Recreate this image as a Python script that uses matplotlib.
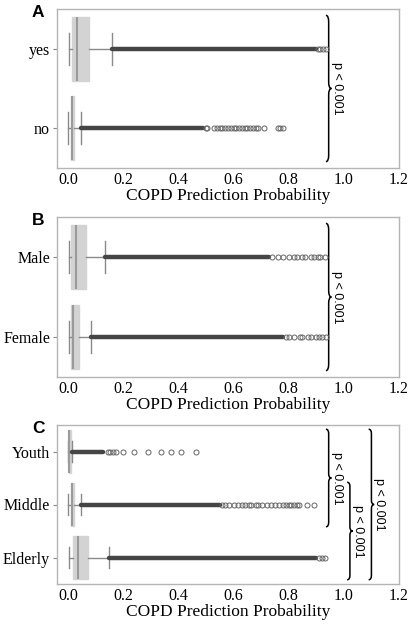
import matplotlib
matplotlib.use('Agg')
import matplotlib.pyplot as plt
from matplotlib.path import Path
from matplotlib.patches import PathPatch

# ---- data (box stats, dense flier runs, sparse fliers) ----
cats_a = ['yes', 'no']
cats_b = ['Male', 'Female']
cats_c = ['Youth', 'Middle', 'Elderly']

# (whislo, q1, med, q3, whishi)
stats_a = [(0.003, 0.016, 0.034, 0.075, 0.160),
           (0.000, 0.009, 0.015, 0.023, 0.046)]
stats_b = [(0.003, 0.012, 0.030, 0.064, 0.135),
           (0.003, 0.012, 0.017, 0.040, 0.082)]
stats_c = [(0.000, 0.002, 0.005, 0.009, 0.016),
           (0.000, 0.009, 0.016, 0.023, 0.048),
           (0.003, 0.018, 0.035, 0.073, 0.150)]

# ranges where the outlier circles overlap into a solid band
dense_a = [[(0.160, 0.900)], [(0.046, 0.490)]]
dense_b = [[(0.135, 0.730)], [(0.082, 0.780)]]
dense_c = [[(0.016, 0.126)], [(0.048, 0.550)], [(0.150, 0.900)]]

sparse_a = [[0.905, 0.915, 0.925, 0.935],
            [0.50, 0.505, 0.53, 0.54, 0.55, 0.56, 0.57, 0.58, 0.59, 0.60, 0.61,
             0.62, 0.63, 0.64, 0.65, 0.66, 0.67, 0.68, 0.69, 0.71, 0.76, 0.77, 0.78]]
sparse_b = [[0.74, 0.76, 0.78, 0.80, 0.82, 0.83, 0.85, 0.86, 0.88, 0.89, 0.905, 0.915, 0.93],
            [0.79, 0.80, 0.82, 0.84, 0.85, 0.87, 0.88, 0.90, 0.91, 0.92, 0.935]]
sparse_c = [[0.144, 0.153, 0.163, 0.174, 0.198, 0.24, 0.29, 0.337, 0.375, 0.41, 0.463],
            [0.56, 0.57, 0.585, 0.60, 0.615, 0.63, 0.64, 0.655, 0.665, 0.68, 0.69,
             0.705, 0.72, 0.735, 0.75, 0.765, 0.78, 0.79, 0.80, 0.81, 0.82, 0.83,
             0.838, 0.866, 0.892],
            [0.91, 0.92, 0.93]]

# significance brackets: (first category, last category, label)
sig_a = [(0, 1, 'p < 0.001')]
sig_b = [(0, 1, 'p < 0.001')]
sig_c = [(0, 1, 'p < 0.001'), (1, 2, 'p < 0.001'), (0, 2, 'p < 0.001')]

xticks = [0.0, 0.2, 0.4, 0.6, 0.8, 1.0, 1.2]
xlabel = 'COPD Prediction Probability'

SERIF = 'Liberation Serif'
SANS = 'Liberation Sans'


def brace(ax, x, y0, y1, w=0.010, r=0.08):
    # curly brace "}" from y0 to y1 (data units), tip pointing right
    ym = (y0 + y1) / 2
    verts = [(x - w, y0), (x, y0), (x, y0 + r),
             (x, ym - r), (x, ym), (x + w, ym),
             (x, ym), (x, ym + r),
             (x, y1 - r), (x, y1), (x - w, y1)]
    codes = [Path.MOVETO, Path.CURVE3, Path.CURVE3,
             Path.LINETO, Path.CURVE3, Path.CURVE3,
             Path.CURVE3, Path.CURVE3,
             Path.LINETO, Path.CURVE3, Path.CURVE3]
    ax.add_patch(PathPatch(Path(verts, codes), fill=False, lw=1.1,
                           edgecolor='black', clip_on=False))


def panel(ax, cats, stats, dense, sparse, sigs, brace_x, letter):
    bxp_stats = []
    for s in stats:
        bxp_stats.append(dict(whislo=s[0], q1=s[1], med=s[2], q3=s[3],
                              whishi=s[4], fliers=[]))
    pos = list(range(len(cats)))
    ax.bxp(bxp_stats, positions=pos, widths=0.8, orientation='horizontal',
           patch_artist=True, showfliers=False,
           boxprops=dict(facecolor='#d3d3d3', edgecolor='#d3d3d3', lw=1),
           medianprops=dict(color='#9a9a9a', lw=1.5),
           whiskerprops=dict(color='#8a8a8a', lw=1),
           capprops=dict(color='#8a8a8a', lw=1))
    for i in pos:
        for a, b in dense[i]:
            ax.plot([a, b], [i, i], color='#454545', lw=3.2,
                    solid_capstyle='round', zorder=3)
        ax.plot(sparse[i], [i] * len(sparse[i]), 'o', ms=3.6, mfc='none',
                mec='#666666', mew=0.7, zorder=3)
    ax.set_ylim(len(cats) - 0.5, -0.5)
    ax.set_xlim(-0.04, 1.19)
    ax.set_yticks(pos)
    ax.set_yticklabels(cats, fontfamily=SERIF, fontsize=11.5)
    ax.set_xticks(xticks)
    ax.set_xticklabels(['%.1f' % t for t in xticks], fontfamily=SERIF, fontsize=11.5)
    ax.tick_params(axis='x', length=0, pad=3)
    ax.tick_params(axis='y', length=3, width=0.8, color='#888888', pad=2)
    ax.set_xlabel(xlabel, fontfamily=SERIF, fontsize=12.5, labelpad=0)
    for sp in ax.spines.values():
        sp.set_color('#b5b5b5')
        sp.set_linewidth(1)
    for (c0, c1, lab), bx in zip(sigs, brace_x):
        brace(ax, bx, c0 - 0.42, c1 + 0.42)
        ax.text(bx + 0.029, (c0 + c1) / 2, lab, rotation=270, ha='center',
                va='center', fontfamily=SANS, fontsize=9, clip_on=False)
    bb = ax.get_position()
    ax.figure.text(32 / 409, bb.y1 + 4 / 625, letter, ha='left', va='top',
                   fontfamily=SANS, fontweight='bold', fontsize=12.5)


fig = plt.figure(figsize=(4.09, 6.25), dpi=100)
left, width = 57 / 409, 342 / 409
ax_a = fig.add_axes([left, 1 - 168 / 625, width, 159 / 625])
ax_b = fig.add_axes([left, 1 - 377 / 625, width, 160 / 625])
ax_c = fig.add_axes([left, 1 - 584 / 625, width, 159 / 625])

panel(ax_a, cats_a, stats_a, dense_a, sparse_a, sig_a, [0.945], 'A')
panel(ax_b, cats_b, stats_b, dense_b, sparse_b, sig_b, [0.945], 'B')
panel(ax_c, cats_c, stats_c, dense_c, sparse_c, sig_c, [0.945, 1.022, 1.100], 'C')

fig.savefig('out.png', dpi=100)
